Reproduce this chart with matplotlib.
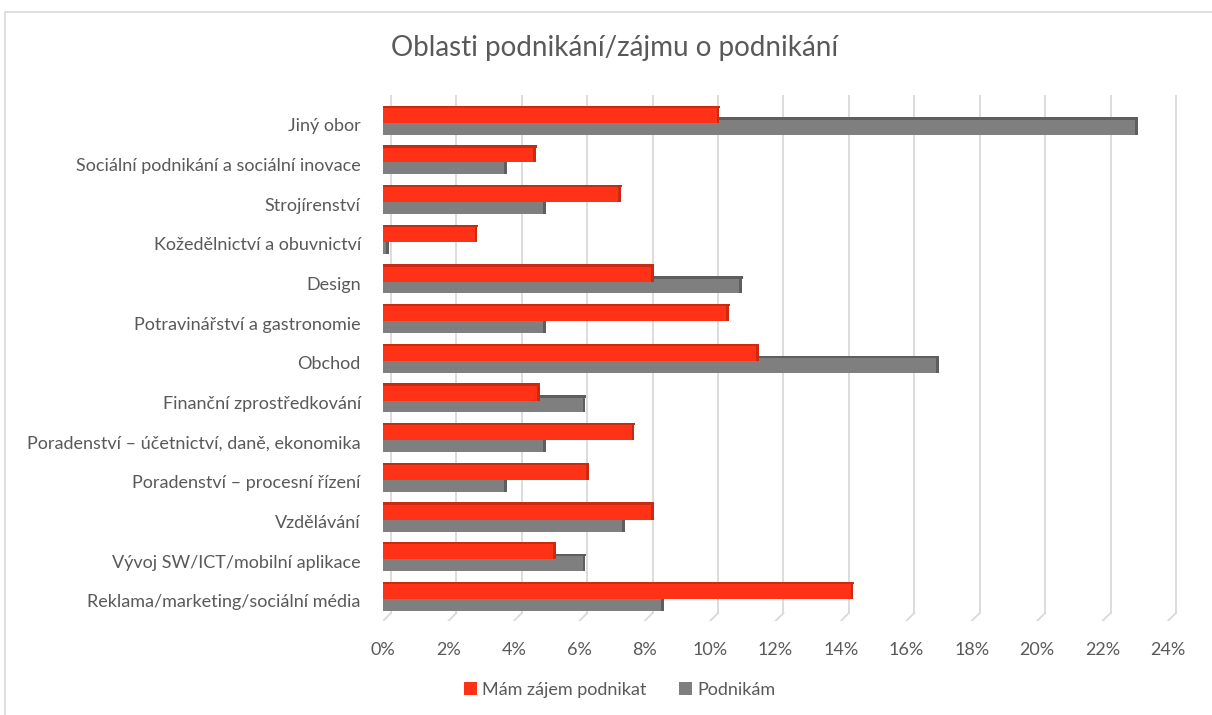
import matplotlib
matplotlib.use("Agg")
import matplotlib.pyplot as plt
from matplotlib.patches import Rectangle, Patch
import numpy as np

categories = [
    "Reklama/marketing/sociální média",
    "Vývoj SW/ICT/mobilní aplikace",
    "Vzdělávání",
    "Poradenství – procesní řízení",
    "Poradenství – účetnictví, daně, ekonomika",
    "Finanční zprostředkování",
    "Obchod",
    "Potravinářství a gastronomie",
    "Design",
    "Kožedělnictví a obuvnictví",
    "Strojírenství",
    "Sociální podnikání a sociální inovace",
    "Jiný obor",
]
zajem = [14.3, 5.2, 8.2, 6.2, 7.6, 4.7, 11.4, 10.5, 8.2, 2.8, 7.2, 4.6, 10.2]
podnikam = [8.5, 6.1, 7.3, 3.7, 4.9, 6.1, 16.9, 4.9, 10.9, 0.1, 4.9, 3.7, 23.0]
xticks = list(range(0, 25, 2))
series_names = ["Mám zájem podnikat", "Podnikám"]

RED = "#FF3116"
RED_TOP = "#C92A12"
GRAY = "#7F7F7F"
GRAY_TOP = "#5E5E5E"
TXT = "#595959"
FONT = ["Lato", "DejaVu Sans"]

plt.rcParams["font.family"] = FONT

W, H = 1212, 715
fig = plt.figure(figsize=(W / 100, H / 100), dpi=100)

# outer border
fig.patches.append(Rectangle((5 / W, -0.05), 1.1, 1 - 12 / H + 0.05,
                             transform=fig.transFigure, fill=False,
                             edgecolor="#D9D9D9", linewidth=1.2))

ax = fig.add_axes([383 / W, 1 - 621 / H, (1181 - 383) / W, (621 - 95) / H])
ax.set_xlim(0, 24.4)
ax.set_ylim(-0.555, 12.7)

y = np.arange(len(categories))
h = 0.375
depth_x = 0.245
floor_top = -0.353

# back-wall gridlines and floor diagonals
for t in xticks:
    ax.plot([t + depth_x, t + depth_x], [floor_top, 12.7], color="#D9D9D9", lw=1.3, zorder=0)
    ax.plot([t, t + depth_x], [-0.555, floor_top], color="#D9D9D9", lw=1.3, zorder=0)

# gray bars (behind) with top and side faces
ax.barh(y - 0.1125 + h / 2 + 0.03, np.array(podnikam) + depth_x * 0.4, height=0.06,
        color=GRAY_TOP, zorder=1)
ax.barh(y - 0.1125, podnikam, height=h, color=GRAY, zorder=2)
ax.barh(y - 0.1125, depth_x * 0.35, left=podnikam, height=h, color=GRAY_TOP, zorder=2)

# red bars (front) with top and side faces
ax.barh(y + 0.1875 + h / 2 + 0.03, np.array(zajem) + depth_x * 0.4, height=0.06,
        color=RED_TOP, zorder=3)
ax.barh(y + 0.1875, zajem, height=h, color=RED, zorder=4)
ax.barh(y + 0.1875, depth_x * 0.35, left=zajem, height=h, color=RED_TOP, zorder=4)

for s in ax.spines.values():
    s.set_visible(False)

ax.set_yticks(y - 0.05)
ax.set_yticklabels(categories, fontsize=13, color=TXT)
ax.set_xticks(xticks)
ax.set_xticklabels([f"{t}%" for t in xticks], fontsize=13, color=TXT)
ax.tick_params(axis="y", length=0, pad=16)
ax.tick_params(axis="x", length=0, pad=15)

fig.text(615 / W, 1 - 48 / H, "Oblasti podnikání/zájmu o podnikání",
         ha="center", va="center", fontsize=20, color=TXT)

handles = [Patch(facecolor=RED), Patch(facecolor=GRAY)]
fig.legend(handles, series_names, loc="center", bbox_to_anchor=(620 / W, 1 - 690 / H),
           ncol=2, frameon=False, fontsize=13, labelcolor=TXT,
           handlelength=0.7, handleheight=0.7, handletextpad=0.3, columnspacing=1.8)

fig.savefig("out.png", dpi=100, facecolor="white")
